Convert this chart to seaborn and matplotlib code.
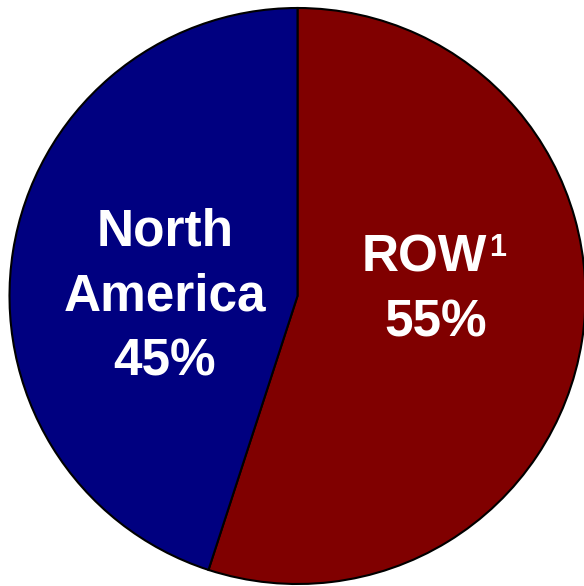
import matplotlib
matplotlib.use("Agg")
import matplotlib.pyplot as plt
import seaborn as sns

sns.set_style("white")
plt.rcParams['font.family'] = ['Liberation Sans', 'DejaVu Sans']

categories = ["ROW", "North America"]
values = [55, 45]
colors = ["#800000", "#000080"]

fig = plt.figure(figsize=(5.84, 5.86), dpi=100)
ax = fig.add_axes([0, 0, 1, 1])

ax.pie(values, colors=colors, startangle=90, counterclock=False,
       center=(297.5, 290), radius=288, frame=True,
       wedgeprops=dict(edgecolor="black", linewidth=1.5))
ax.set_xlim(0, 584)
ax.set_ylim(0, 586)
ax.set_aspect("equal")
ax.axis("off")

tk = dict(color="white", fontsize=37, fontweight="bold", ha="center", va="center")
ax.text(165, 354, "North", **tk)
ax.text(165, 289, "America", **tk)
ax.text(165, 224, f"{values[1]}%", **tk)
ax.text(424, 328, categories[0], **tk)
ax.text(489, 353, "1", color="white", fontsize=22, fontweight="bold",
        ha="left", va="top")
ax.text(436, 263, f"{values[0]}%", **tk)

fig.savefig("out.png", dpi=100)
